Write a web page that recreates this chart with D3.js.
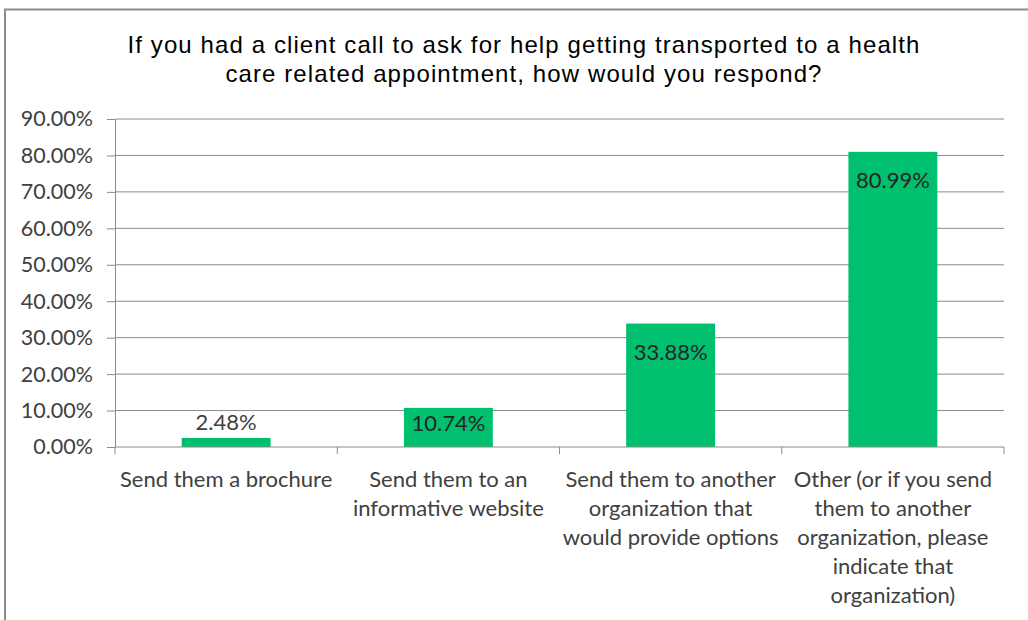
<!DOCTYPE html>
<html><head><meta charset="utf-8">
<script src="https://cdn.jsdelivr.net/npm/d3@7"></script>
<style>html,body{margin:0;padding:0;background:#fff;}svg{display:block;}</style>
</head><body>
<svg id="c" width="1028" height="620"></svg>
<script>
const titleLines = ["If you had a client call to ask for help getting transported to a health", "care related appointment,  how would you respond?"];
const categories = ["Send them a brochure", "Send them to an informative website", "Send them to another organization that would provide options", "Other (or if you send them to another organization, please indicate that organization)"];
const categoryLines = [["Send them a brochure"], ["Send them to an", "informative website"], ["Send them to another", "organization that", "would provide options"], ["Other (or if you send", "them to another", "organization, please", "indicate that", "organization)"]];
const values = [2.48, 10.74, 33.88, 80.99];
const valueLabels = ["2.48%", "10.74%", "33.88%", "80.99%"];
const yTicks = [0, 10, 20, 30, 40, 50, 60, 70, 80, 90];

const svg = d3.select("#c");
const L = 115, R = 1004, T = 119, B = 447;
const font = "Lato, 'Open Sans', sans-serif";
const gridColor = "#8a8a8a";
const textColor = "#404040";

// outer frame
svg.append("path").attr("d", `M5,620 V9.5 H1028`).attr("fill", "none").attr("stroke", "#8c8c8c").attr("stroke-width", 2);

// title
svg.append("text").attr("x", 524).attr("y", 53).attr("text-anchor", "middle")
  .attr("font-family", "'Liberation Sans', Arial, sans-serif").attr("font-size", 24)
  .attr("letter-spacing", 1.1).attr("fill", "#000")
  .selectAll("tspan").data(titleLines).join("tspan")
  .attr("x", 524).attr("dy", (d, i) => i ? 29 : 0).text(d => d);

const x = d3.scaleBand().domain(categories).range([L, R]).paddingInner(0.6).paddingOuter(0.3);
const y = d3.scaleLinear().domain([0, 90]).range([B, T]);

// gridlines
svg.append("g").selectAll("line").data(yTicks.filter(t => t > 0)).join("line")
  .attr("x1", L).attr("x2", R).attr("y1", d => y(d)).attr("y2", d => y(d))
  .attr("stroke", gridColor).attr("stroke-width", 1);

// y axis
const yAxis = svg.append("g").attr("transform", `translate(${L},0)`)
  .call(d3.axisLeft(y).tickValues(yTicks).tickSize(8).tickSizeOuter(0).tickPadding(14).tickFormat(d => d3.format(".2f")(d) + "%"));
yAxis.select(".domain").attr("stroke", gridColor);
yAxis.selectAll(".tick line").attr("stroke", gridColor);
yAxis.selectAll(".tick text").attr("font-family", font).attr("font-size", 21.5).attr("fill", textColor);

// bars
const gap = (x.step() - x.bandwidth()) / 2;
svg.append("g").selectAll("rect").data(values).join("rect")
  .attr("x", (d, i) => x(categories[i])).attr("width", x.bandwidth())
  .attr("y", d => y(d)).attr("height", d => B - y(d))
  .attr("fill", "#00bf6f");

// x axis baseline and category ticks
svg.append("line").attr("x1", L).attr("x2", R).attr("y1", B).attr("y2", B).attr("stroke", gridColor);
const bounds = categories.map(c => x(c) - gap).concat([x(categories[categories.length - 1]) + x.bandwidth() + gap]);
svg.append("g").selectAll("line").data(bounds).join("line")
  .attr("x1", d => d).attr("x2", d => d).attr("y1", B).attr("y2", B + 7).attr("stroke", gridColor);

// category labels
const cl = svg.append("g").attr("font-family", font).attr("font-size", 22).attr("fill", textColor).attr("text-anchor", "middle");
categoryLines.forEach((lines, i) => {
  const cx = x(categories[i]) + x.bandwidth() / 2;
  cl.append("text").attr("x", cx).attr("y", 478).attr("dominant-baseline", "central")
    .selectAll("tspan").data(lines).join("tspan").attr("x", cx).attr("dy", (d, j) => j ? 29 : 0).text(d => d);
});

// value labels
svg.append("g").attr("font-family", font).attr("font-size", 22).attr("text-anchor", "middle")
  .selectAll("text").data(values).join("text")
  .attr("x", (d, i) => x(categories[i]) + x.bandwidth() / 2)
  .attr("y", d => {
    const top = y(d);
    if (B - top < 25) return top - 16;
    return Math.min(top + 28, B - 25);
  })
  .attr("dominant-baseline", "central")
  .attr("fill", d => (B - y(d) < 25) ? textColor : "#262626")
  .text((d, i) => valueLabels[i]);
</script>
</body></html>
